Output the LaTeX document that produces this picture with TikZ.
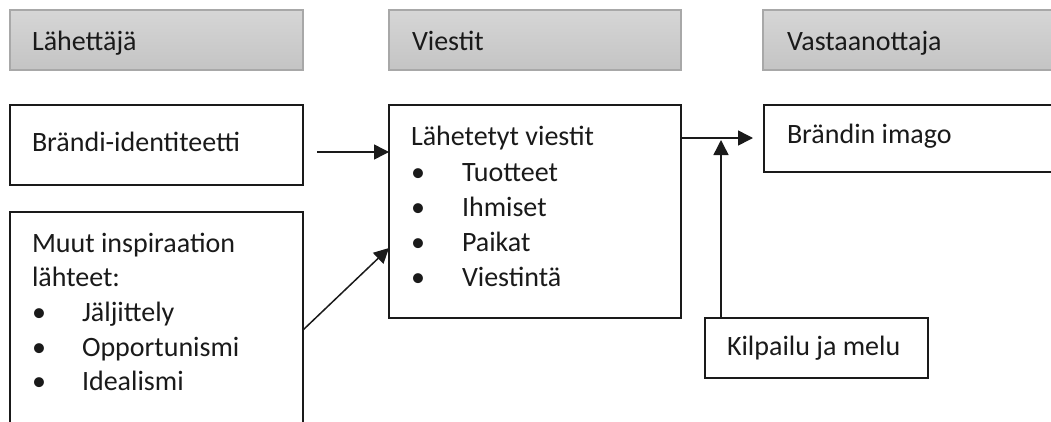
\documentclass[tikz,border=0pt]{standalone}
\usepackage{fontspec}
\setmainfont{Carlito}
\usetikzlibrary{arrows.meta}
\definecolor{ink}{HTML}{1A1A1A}
\definecolor{hdrtop}{HTML}{D6D6D6}
\definecolor{hdrbot}{HTML}{C4C4C4}
\definecolor{hdrline}{HTML}{A8A8A8}
\tikzset{
  box/.style={draw=ink, line width=1.5pt, fill=white, rectangle,
    anchor=north west, inner sep=0pt, outer sep=0pt},
  hdr/.style={draw=hdrline, line width=1.5pt, top color=hdrtop,
    bottom color=hdrbot, rectangle, anchor=north west, inner sep=0pt, outer sep=0pt},
  txt/.style={anchor=base west, inner sep=0pt, outer sep=0pt, text=ink,
    font=\fontsize{28}{34}\selectfont},
  arr/.style={draw=ink, line width=1.5pt, -{Triangle[length=15pt,width=15pt]}},
  plain/.style={draw=ink, line width=1.5pt},
}
\begin{document}
\begin{tikzpicture}[x=1pt,y=-1pt]
\path[use as bounding box, clip] (0,0) rectangle (1051,421);

% column headers
\node[hdr, minimum width=293pt, minimum height=60pt] (h1) at (10,10) {};
\node[hdr, minimum width=292pt, minimum height=60pt] (h2) at (389,10) {};
\node[hdr, minimum width=300pt, minimum height=60pt] (h3) at (763,10) {};
\node[txt] (h1t) at (32,50) {Lähettäjä};
\node[txt] (h2t) at (412,50) {Viestit};
\node[txt] (h3t) at (787,50) {Vastaanottaja};

% sender side
\node[box, minimum width=293pt, minimum height=80pt] (brand) at (10,105) {};
\node[txt] (brandt) at (32,151) {Brändi-identiteetti};

\node[box, minimum width=293pt, minimum height=230pt] (other) at (10,212) {};
\node[txt] (o1) at (32,252) {Muut inspiraation};
\node[txt] (o2) at (32,286) {lähteet:};
\node[txt] (ob1) at (32,321) {•};
\node[txt] (ot1) at (82,321) {Jäljittely};
\node[txt] (ob2) at (32,356) {•};
\node[txt] (ot2) at (82,356) {Opportunismi};
\node[txt] (ob3) at (32,390) {•};
\node[txt] (ot3) at (82,390) {Idealismi};

% messages
\node[box, minimum width=292pt, minimum height=213pt] (msg) at (389,105) {};
\node[txt] (m0) at (411,145) {Lähetetyt viestit};
\node[txt] (mb1) at (411,181) {•};
\node[txt] (mt1) at (462,181) {Tuotteet};
\node[txt] (mb2) at (411,216) {•};
\node[txt] (mt2) at (462,216) {Ihmiset};
\node[txt] (mb3) at (411,251) {•};
\node[txt] (mt3) at (462,251) {Paikat};
\node[txt] (mb4) at (411,286) {•};
\node[txt] (mt4) at (462,286) {Viestintä};

% receiver side
\node[box, minimum width=300pt, minimum height=67pt] (image) at (764,105) {};
\node[txt] (imaget) at (787,143) {Brändin imago};

\node[box, minimum width=223pt, minimum height=60pt] (noise) at (705,318) {};
\node[txt] (noiset) at (727,355) {Kilpailu ja melu};

% connectors
\coordinate (a1) at (317,152);
\draw[arr] (a1) -- (msg.west |- a1);

\coordinate (a2s) at (303,330);
\coordinate (a2e) at (389,248);
\draw[arr] (a2s) -- (a2e);

\coordinate (a3s) at (681,138);
\coordinate (a3e) at (753,138);
\draw[arr] (a3s) -- (a3e);

\coordinate (a4e) at (721,140);
\draw[arr] (noise.north west -| a4e) -- (a4e);
\end{tikzpicture}
\end{document}
